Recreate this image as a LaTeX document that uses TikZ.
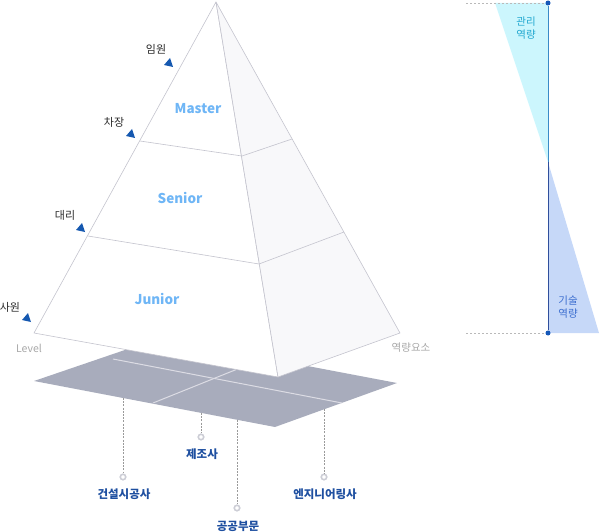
\documentclass[tikz,border=0pt]{standalone}
\usepackage{fontspec}
\setmainfont{Noto Sans CJK KR}
\usetikzlibrary{calc}
\definecolor{edgec}{HTML}{C4C4CE}
\definecolor{rface}{HTML}{F8F8FA}
\definecolor{lvlc}{HTML}{6FB6F6}
\definecolor{rankc}{HTML}{2A2A2A}
\definecolor{tric}{HTML}{1558B0}
\definecolor{axisc}{HTML}{A8A8A8}
\definecolor{planec}{HTML}{A8ACBC}
\definecolor{planeline}{HTML}{DCDCE4}
\definecolor{dropc}{HTML}{9A9A9A}
\definecolor{circc}{HTML}{CDCED6}
\definecolor{secc}{HTML}{1E4FA0}
\definecolor{cyanfill}{HTML}{CCF6FD}
\definecolor{cyantext}{HTML}{22A8D0}
\definecolor{bluefill}{HTML}{C6D8F8}
\definecolor{bluetext}{HTML}{3D6FD0}
\definecolor{vupper}{HTML}{3A8BC8}
\definecolor{vlower}{HTML}{2F4E9C}
\definecolor{dotc}{HTML}{1558B8}
\tikzset{
  pedge/.style={draw=edgec, line width=0.6pt, line join=round},
  lvltext/.style={text=lvlc, font=\fontsize{13.5}{15}\selectfont\bfseries, inner sep=0pt},
  ranktext/.style={text=rankc, font=\fontsize{11}{13}\selectfont, inner sep=0pt},
  axistext/.style={text=axisc, font=\fontsize{10.5}{12}\selectfont, inner sep=0pt},
  sectext/.style={text=secc, font=\fontsize{11.5}{13}\selectfont\bfseries, inner sep=0pt},
  ringnode/.style={circle, draw=circc, line width=1.6pt, fill=white, minimum size=5.5pt, inner sep=0pt},
  dropline/.style={draw=dropc, line width=0.5pt, dash pattern=on 2pt off 1.2pt},
  ranktri/.style={fill=tric, draw=none},
  comptext/.style={font=\fontsize{10.5}{13.5}\selectfont, align=center, inner sep=0pt},
  dotnode/.style={circle, fill=dotc, minimum size=5pt, inner sep=0pt},
  guide/.style={draw=axisc!80, line width=0.5pt, dash pattern=on 2pt off 2pt}
}
\begin{document}
\begin{tikzpicture}[x=1pt,y=-1pt]
\useasboundingbox (0,0) rectangle (600,532);
% base plane
\coordinate (P1) at (34,381);
\coordinate (P2) at (160,338);
\coordinate (P3) at (397,383);
\coordinate (P4) at (275,427);
\fill[planec] (P1) -- (P2) -- (P3) -- (P4) -- cycle;
\coordinate (Q1) at (113,359);
\coordinate (Q2) at (342,403);
\coordinate (Q3) at (153,403);
\coordinate (Q4) at (240,368);
\draw[planeline, line width=1pt] (Q1) -- (Q2);
\draw[planeline, line width=1pt] (Q3) -- (Q4);
% pyramid
\coordinate (A) at (216,2);
\coordinate (L) at (34,333);
\coordinate (F) at (278,377);
\coordinate (R) at (400,333);
\filldraw[pedge, fill=white] (A) -- (L) -- (F) -- cycle;
\filldraw[pedge, fill=rface] (A) -- (F) -- (R) -- cycle;
\coordinate (L1a) at (140,141);
\coordinate (L1b) at (242,156);
\coordinate (L1c) at (292,139);
\coordinate (L2a) at (88,236);
\coordinate (L2b) at (259,264);
\coordinate (L2c) at (344,232);
\draw[pedge] (L1a) -- (L1b) -- (L1c);
\draw[pedge] (L2a) -- (L2b) -- (L2c);
% level labels
\node[lvltext] (master) at (198,109) {Master};
\node[lvltext] (senior) at (180,198) {Senior};
\node[lvltext] (junior) at (157,299) {Junior};
% rank labels and markers
\node[ranktext] (r1) at (156,49) {임원};
\node[ranktext] (r2) at (114,122) {차장};
\node[ranktext] (r3) at (65,215) {대리};
\node[ranktext] (r4) at (10,307) {사원};
\foreach \px/\py in {170/63, 132/134, 82/228, 28/318}{
  \fill[ranktri] (\px,\py-5) -- (\px-6,\py+2) -- (\px+3,\py+4) -- cycle;
}
\node[axistext] (level) at (29,348) {Level};
\node[axistext] (elem) at (411,348) {역량요소};
% sectors
\coordinate (d1) at (123,398);
\coordinate (d2) at (201,413);
\coordinate (d3) at (237,420);
\coordinate (d4) at (324,409);
\node[ringnode] (c1) at (123,477) {};
\node[ringnode] (c2) at (201,437) {};
\node[ringnode] (c3) at (237,508) {};
\node[ringnode] (c4) at (324,477) {};
\draw[dropline] (d1) -- (c1);
\draw[dropline] (d2) -- (c2);
\draw[dropline] (d3) -- (c3);
\draw[dropline] (d4) -- (c4);
\node[sectext] (s1) at (124,494) {건설시공사};
\node[sectext] (s2) at (202,454) {제조사};
\node[sectext] (s3) at (238,526) {공공부문};
\node[sectext] (s4) at (325,494) {엔지니어링사};
% competency bar
\coordinate (T0) at (495,3);
\coordinate (M) at (548,162);
\coordinate (B1) at (599,333);
\fill[cyanfill] (T0) -- (548,3) -- (M) -- cycle;
\fill[bluefill] (M) -- (548,333) -- (B1) -- cycle;
\node[dotnode] (top) at (548,3) {};
\node[dotnode] (bot) at (548,333) {};
\coordinate (gt) at (466,3);
\coordinate (gb) at (466,333);
\draw[guide] (gt) -- (top);
\draw[guide] (gb) -- (bot);
\draw[vupper, line width=0.9pt] (top) -- (M);
\draw[vlower, line width=0.9pt] (M) -- (bot);
\node[comptext, text=cyantext] (mgmt) at (526,28) {관리\\역량};
\node[comptext, text=bluetext] (tech) at (568,307) {기술\\역량};
\end{tikzpicture}
\end{document}
